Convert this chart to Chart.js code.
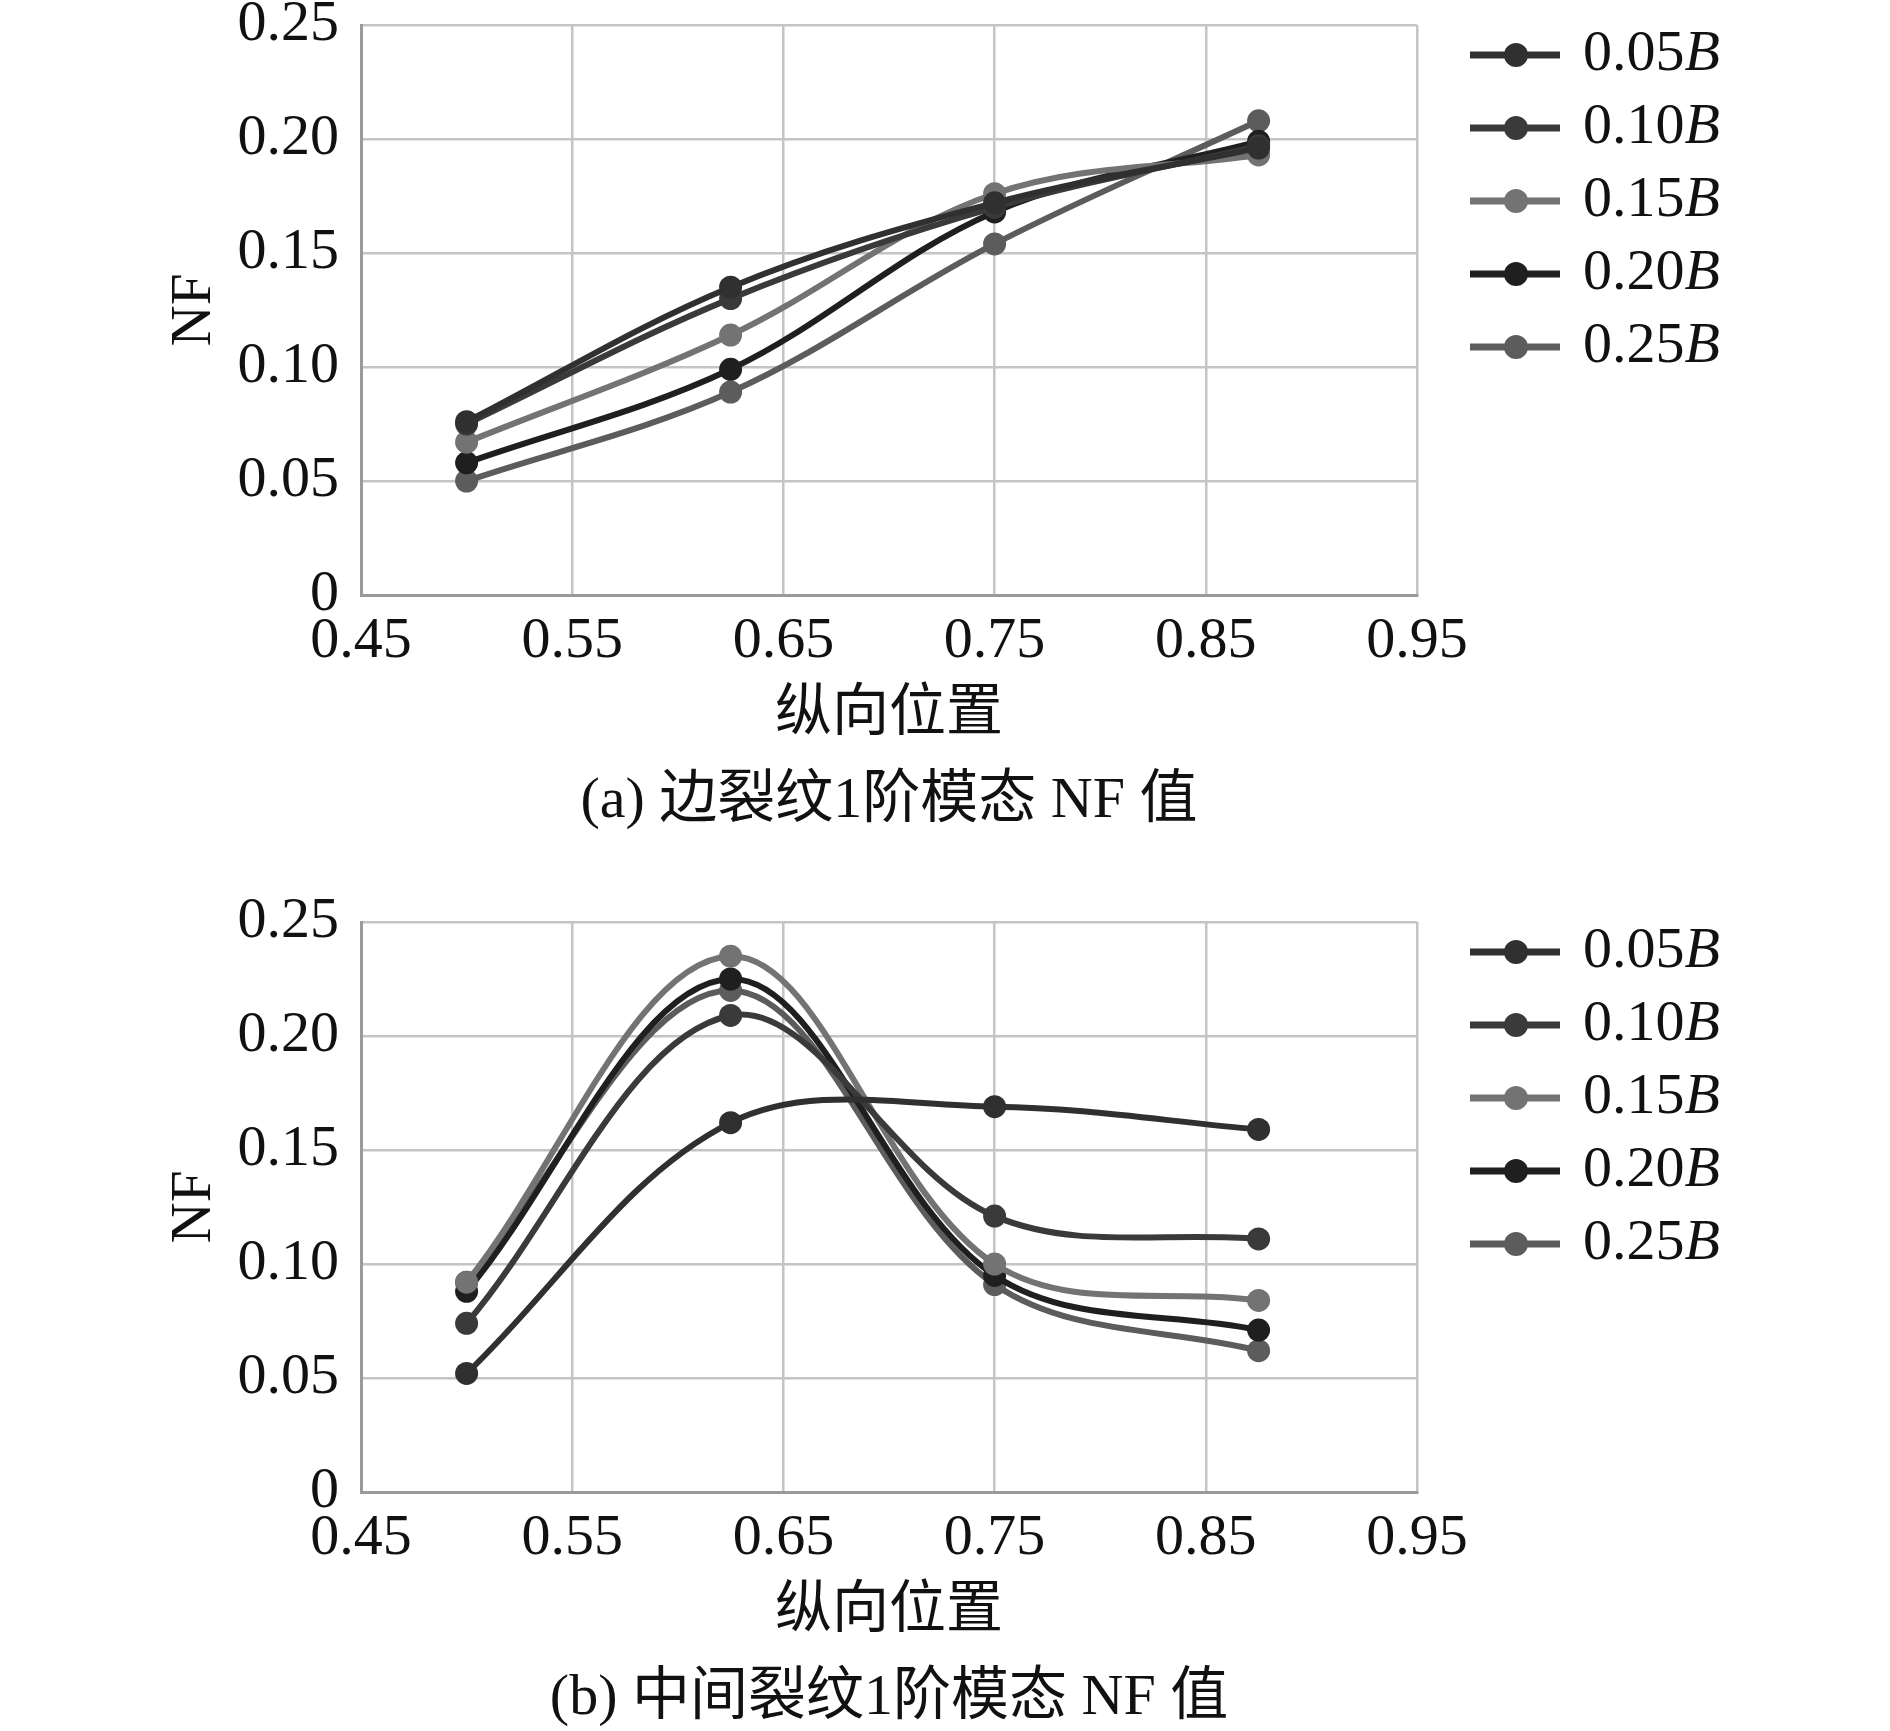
<!DOCTYPE html>
<html>
<head>
<meta charset="utf-8">
<script src="https://cdn.jsdelivr.net/npm/chart.js@4.4.1/dist/chart.umd.min.js"></script>
<style>
  html, body { margin: 0; padding: 0; background: #fff; overflow: hidden; }
  canvas { position: absolute; left: 0; }
</style>
</head>
<body>
<canvas id="chartA" width="1890" height="897" style="top:0px"></canvas>
<canvas id="chartB" width="1890" height="834" style="top:897px"></canvas>
<script>
// 纵向位置
const xPositions = [0.5, 0.625, 0.75, 0.875];
const seriesNames = ["0.05", "0.10", "0.15", "0.20", "0.25"];
const xTicks = [0.45, 0.55, 0.65, 0.75, 0.85, 0.95];
const xTickLabels = ["0.45", "0.55", "0.65", "0.75", "0.85", "0.95"];
const yTicks = [0, 0.05, 0.1, 0.15, 0.2, 0.25];
const yTickLabels = ["0", "0.05", "0.10", "0.15", "0.20", "0.25"];

// (a) 边裂纹
const edge005 = [0.076, 0.135, 0.172, 0.196];
const edge010 = [0.075, 0.130, 0.170, 0.197];
const edge015 = [0.067, 0.114, 0.176, 0.193];
const edge020 = [0.058, 0.099, 0.168, 0.199];
const edge025 = [0.050, 0.089, 0.154, 0.208];

// (b) 中间裂纹
const mid005 = [0.052, 0.162, 0.169, 0.159];
const mid010 = [0.074, 0.209, 0.121, 0.111];
const mid015 = [0.092, 0.235, 0.100, 0.084];
const mid020 = [0.088, 0.225, 0.095, 0.071];
const mid025 = [0.092, 0.220, 0.091, 0.062];

const colors = ["#303030", "#3a3a3a", "#737373", "#1f1f1f", "#5c5c5c"];
const serif = "'Liberation Serif', 'Times New Roman', serif";
const mixed = "'Liberation Serif', 'Noto Sans CJK SC', serif";

// legend on the right, with italic B
const sideLegend = {
  id: "sideLegend",
  afterDraw(chart) {
    const ctx = chart.ctx;
    const top = chart.chartArea.top;
    chart.data.datasets.forEach((ds, i) => {
      const y = top + 30 + i * 73;
      ctx.save();
      ctx.strokeStyle = ds.borderColor;
      ctx.lineWidth = 7;
      ctx.beginPath();
      ctx.moveTo(1470, y);
      ctx.lineTo(1560, y);
      ctx.stroke();
      ctx.fillStyle = ds.borderColor;
      ctx.beginPath();
      ctx.arc(1516, y, 12, 0, Math.PI * 2);
      ctx.fill();
      ctx.fillStyle = "#111";
      ctx.textBaseline = "middle";
      ctx.font = "58px " + serif;
      ctx.fillText(seriesNames[i], 1583, y);
      const w = ctx.measureText(seriesNames[i]).width;
      ctx.font = "italic 58px " + serif;
      ctx.fillText("B", 1583 + w, y);
      ctx.restore();
    });
  },
};

function makeChart(id, series, caption, bottomPad) {
  new Chart(id, {
    type: "line",
    data: {
      datasets: series.map((vals, i) => ({
        label: seriesNames[i] + "B",
        data: vals.map((v, j) => ({ x: xPositions[j], y: v })),
        borderColor: colors[i],
        backgroundColor: colors[i],
        borderWidth: 6,
        pointRadius: 11.5,
        pointHoverRadius: 11.5,
        pointBorderWidth: 0,
        tension: 0.35,
        fill: false,
      })),
    },
    options: {
      responsive: false,
      animation: false,
      events: [],
      layout: { padding: { left: 0, right: 473, top: 25, bottom: bottomPad } },
      plugins: {
        legend: { display: false },
        tooltip: { enabled: false },
        title: {
          display: true,
          position: "bottom",
          fullSize: false,
          text: caption,
          color: "#111",
          font: { family: mixed, size: 58, weight: "normal", lineHeight: 1.0 },
          padding: 0,
        },
      },
      scales: {
        x: {
          type: "linear",
          min: 0.45,
          max: 0.95,
          afterBuildTicks: (scale) => {
            scale.ticks = xTicks.map((v) => ({ value: v }));
          },
          afterFit: (scale) => {
            scale.height = 178;
            scale.paddingLeft = 0;
            scale.paddingRight = 0;
          },
          grid: { color: "#c4c4c4", lineWidth: 2.5, drawTicks: false },
          border: { color: "#9a9a9a", width: 3 },
          ticks: {
            padding: 12,
            color: "#111",
            font: { family: serif, size: 58, lineHeight: 1.2 },
            callback: (v, i) => xTickLabels[i],
          },
          title: {
            display: true,
            text: "纵向位置",
            color: "#111",
            font: { family: mixed, size: 57, lineHeight: 1.2 },
            padding: { top: 0, bottom: 24 },
          },
        },
        y: {
          min: 0,
          max: 0.25,
          afterBuildTicks: (scale) => {
            scale.ticks = yTicks.map((v) => ({ value: v }));
          },
          afterFit: (scale) => {
            scale.width = 361;
            scale.paddingTop = 0;
            scale.paddingBottom = 0;
          },
          grid: { color: "#c4c4c4", lineWidth: 2.5, drawTicks: false },
          border: { color: "#9a9a9a", width: 3 },
          ticks: {
            padding: 22,
            color: "#111",
            font: { family: serif, size: 58, lineHeight: 1.2 },
            callback: (v, i) => yTickLabels[i],
          },
          title: {
            display: true,
            text: "NF",
            color: "#111",
            font: { family: serif, size: 57, lineHeight: 1.2 },
            padding: { top: 161, bottom: 0 },
          },
        },
      },
    },
    plugins: [sideLegend],
  });
}

makeChart("chartA", [edge005, edge010, edge015, edge020, edge025], "(a) 边裂纹1阶模态 NF 值", 66);
makeChart("chartB", [mid005, mid010, mid015, mid020, mid025], "(b) 中间裂纹1阶模态 NF 值", 3);
</script>
</body>
</html>
